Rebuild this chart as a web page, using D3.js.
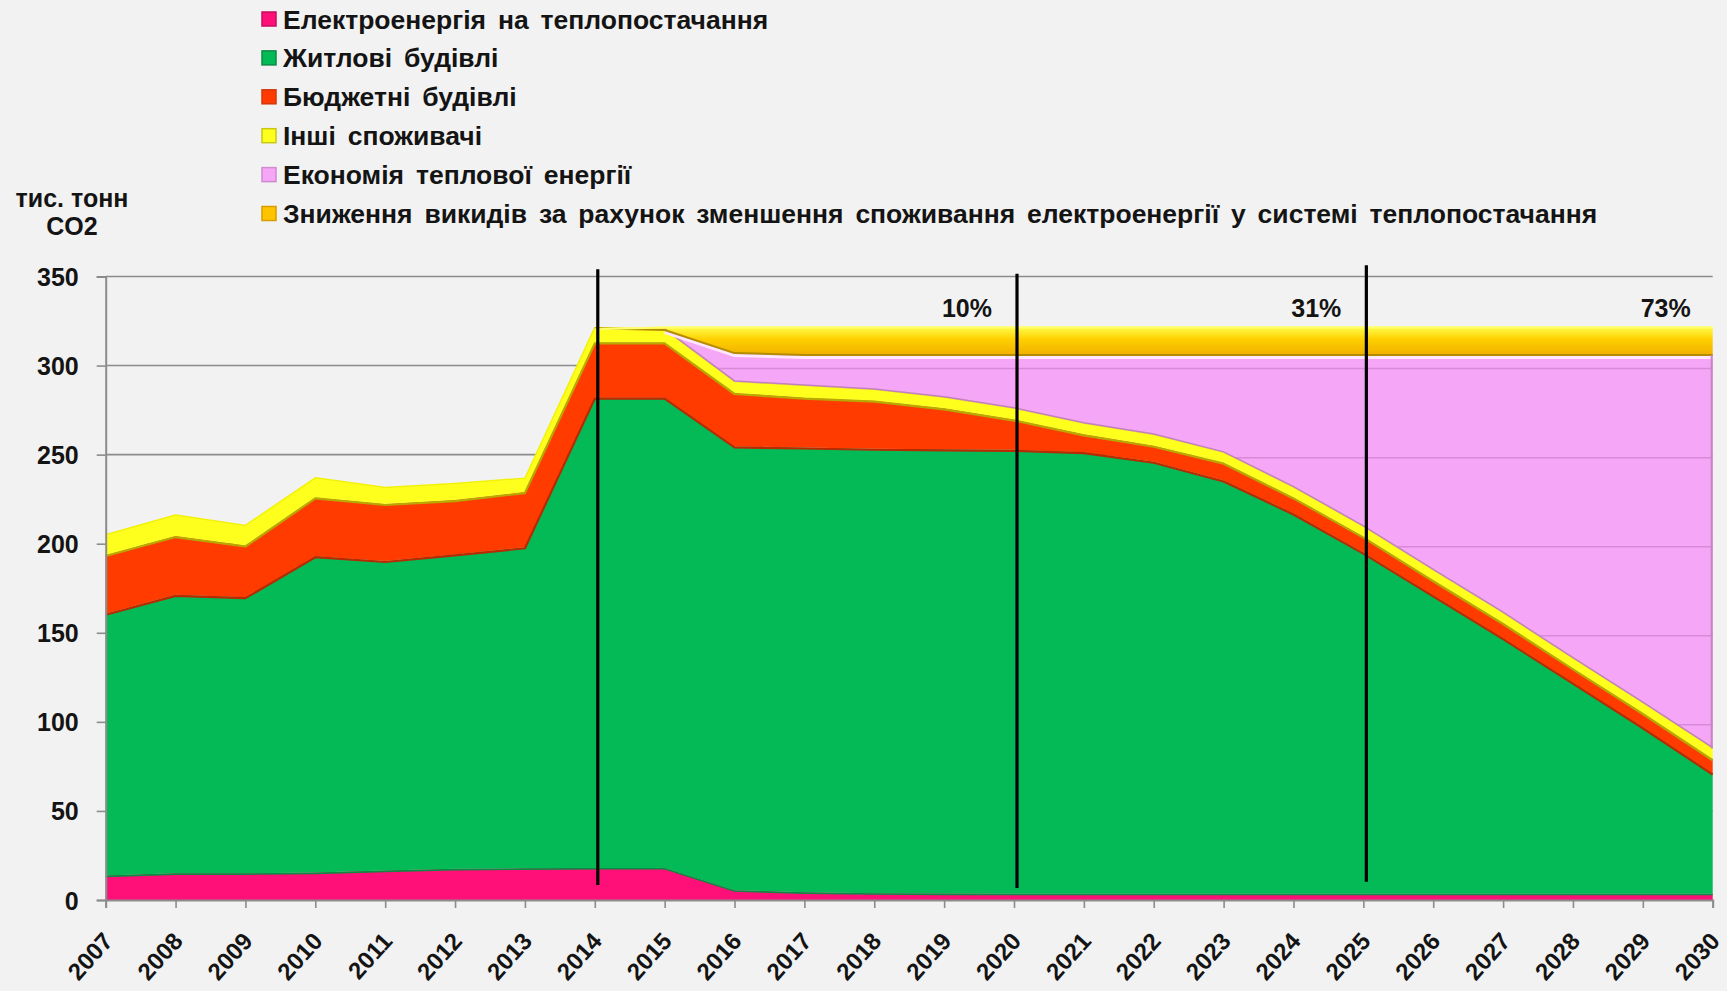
<!DOCTYPE html>
<html><head><meta charset="utf-8">
<script src="https://cdn.jsdelivr.net/npm/d3@7"></script>
<style>
html,body{margin:0;padding:0;background:#f2f2f2;}
svg{display:block;}
text{font-family:"Liberation Sans", Arial, sans-serif;fill:#141414;}
</style></head><body>
<svg id="chart" width="1727" height="991"></svg>
<script>
// ---------- data ----------
const years = [2007,2008,2009,2010,2011,2012,2013,2014,2015,2016,2017,2018,2019,2020,2021,2022,2023,2024,2025,2026,2027,2028,2029,2030];
const elec    = [13.7,15,15,15.4,16.5,17.5,17.8,18,18,5.5,4.3,3.8,3.6,3.5,3.5,3.5,3.5,3.5,3.5,3.5,3.5,3.5,3.5,3.5];
const resid   = [147,156.3,155,177.6,173.8,176.5,180.2,264,264,249.1,249.7,249.5,249.4,249.2,247.9,242.5,232,213.5,191.5,167.5,143.5,118.5,93.5,67.5];
const budget  = [33,33,29,33,32,30.5,31,31,31,30,28,27,23,17,10,9,10,9,9,8.5,8.5,8,8,8];
const other   = [11,11.5,11,10.7,9,9,7.5,8,7,6.2,6.5,6,6,6,6,6,5.5,5.5,5.5,5.5,5.5,5.5,5.5,6];
const savings = [0,0,0,0,0,0,0,0,0,16.2,17.5,19.7,24,30.3,38.6,45,55,74.5,96.5,121,145,170.5,195.5,221];
const gold    = [0,0,0,0,0,0,0,0,2,15,16,16,16,16,16,16,16,16,16,16,16,16,16,16];

const seriesKeys = ["elec","resid","budget","other","savings","gold"];
const seriesNames = [
  "Електроенергія на теплопостачання",
  "Житлові будівлі",
  "Бюджетні будівлі",
  "Інші споживачі",
  "Економія теплової енергії",
  "Зниження викидів за рахунок зменшення споживання електроенергії у системі теплопостачання"
];
const seriesColors = ["#ff0f78","#03ba56","#ff3b00","#ffff1e","#f6a6f6","#ffc400"];
const legendSwatch = ["#c80c5e","#0b8a44","#d2380a","#c8c814","#d08ad0","#d89c00"];

const yTicks = [0,50,100,150,200,250,300,350];
const markerYears = [2014,2020,2025];
const markerTop = [354,351.6,356.3];
const markerBottom = [8.4,6.7,10.3];
const pctYears = [2020,2025,2030];
const pctLabels = ["10%","31%","73%"];
const pctLevel = 327.3;
const yTitle = ["тис. тонн","CO2"];

// ---------- setup ----------
const svg = d3.select("#chart");
const x = d3.scaleLinear().domain([2007,2030]).range([105.7,1712.7]);
const y = d3.scaleLinear().domain([0,350]).range([900,276.5]);

const data = years.map((yr,i)=>({year:yr, elec:elec[i], resid:resid[i], budget:budget[i], other:other[i], savings:savings[i], gold:gold[i]}));
const stacked = d3.stack().keys(seriesKeys)(data);

// gridlines
svg.append("g").selectAll("line").data(yTicks.filter(v=>v>0)).join("line")
  .attr("x1",x(2007)).attr("x2",x(2030)).attr("y1",d=>y(d)).attr("y2",d=>y(d))
  .attr("stroke","#8c8c8c").attr("stroke-width",1.6);

// gradient for gold band
const defs = svg.append("defs");
const gg = defs.append("linearGradient").attr("id","goldGrad").attr("gradientUnits","userSpaceOnUse")
  .attr("x1",0).attr("x2",0).attr("y1",y(322)).attr("y2",y(306));
gg.append("stop").attr("offset","0%").attr("stop-color","#ffff50");
gg.append("stop").attr("offset","45%").attr("stop-color","#ffd000");
gg.append("stop").attr("offset","100%").attr("stop-color","#f0b000");

const startYear = {elec:2007,resid:2007,budget:2007,other:2007,savings:2015,gold:2014};
const plot = svg.append("g");
stacked.forEach((s,i)=>{
  const k = s.key;
  const area = d3.area().defined(d=>d.data.year>=startYear[k])
    .x(d=>x(d.data.year)).y0(d=>y(d[0])).y1(d=>y(d[1]));
  plot.append("path").datum(s).attr("d",area)
    .attr("fill", k==="gold" ? "url(#goldGrad)" : seriesColors[i]);
  if(k==="savings"){
    defs.append("clipPath").attr("id","savClip").append("path").datum(s).attr("d",area);
  }
});

// faint gridlines visible over the savings area
plot.append("g").attr("clip-path","url(#savClip)").selectAll("line").data(yTicks.filter(v=>v>0)).join("line")
  .attr("x1",x(2007)).attr("x2",x(2030)).attr("y1",d=>y(d)+3).attr("y2",d=>y(d)+3)
  .attr("stroke","#d88ad8").attr("stroke-width",1.5);

// bevel-like edge lines
function edge(s, startY, color, w, off){
  const ln = d3.line().defined(d=>d.data.year>=startY).x(d=>x(d.data.year)).y(d=>y(d[1])+(off||0));
  plot.append("path").datum(s).attr("d",ln).attr("fill","none").attr("stroke",color).attr("stroke-width",w).attr("stroke-linejoin","round");
}
edge(stacked[0],2007,"#0b8a40",1.6,0.8);     // pink/green
edge(stacked[1],2007,"#b82a00",2.2,1);       // green/red
edge(stacked[2],2007,"#b8a800",2.2,1);       // red/yellow
edge(stacked[3],2007,"#f2f200",1.5,-0.5);    // yellow top highlight
const yellowTopShadow = d3.line().defined(d=>d.data.year>=2015).x(d=>x(d.data.year)).y(d=>y(d[1])-1);
plot.append("path").datum(stacked[3]).attr("d",yellowTopShadow).attr("fill","none").attr("stroke","#c27fc2").attr("stroke-width",1.5);
edge(stacked[4],2015,"#ffe6ff",3,2.5);       // pink top highlight
edge(stacked[4],2014,"#b48c00",2,0);         // gold bottom shadow
edge(stacked[5],2014,"#ffff6a",2,1);         // gold top highlight

// right end edge of the savings layer
const last = data.length-1;
plot.append("line").attr("x1",x(years[last])-1).attr("x2",x(years[last])-1)
  .attr("y1",y(stacked[4][last][0])).attr("y2",y(stacked[4][last][1]))
  .attr("stroke","#c585c5").attr("stroke-width",2);

// axes
const yAxis = d3.axisLeft(y).tickValues(yTicks).tickSize(9).tickPadding(18).tickFormat(d3.format("d"));
const gy = svg.append("g").attr("transform",`translate(${x(2007)},0)`).call(yAxis);
gy.select(".domain").attr("stroke","#8c8c8c").attr("stroke-width",2);
gy.selectAll(".tick line").attr("stroke","#8c8c8c").attr("stroke-width",1.6);
gy.selectAll(".tick text").attr("font-size",25).attr("font-weight","bold").attr("font-family","'Liberation Sans',Arial").attr("fill","#141414").attr("dy","0.36em");

const xAxis = d3.axisBottom(x).tickValues(years).tickSize(8).tickFormat(d3.format("d"));
const gx = svg.append("g").attr("transform",`translate(0,${y(0)})`).call(xAxis);
gx.select(".domain").attr("stroke","#8c8c8c").attr("stroke-width",2);
gx.selectAll(".tick line").attr("stroke","#8c8c8c").attr("stroke-width",1.6);
gx.selectAll(".tick text").attr("font-size",24).attr("font-weight","bold").attr("fill","#141414")
  .attr("text-anchor","end").attr("dy",0).attr("y",0)
  .attr("transform","translate(8,42) rotate(-48)");

// marker lines
svg.append("g").selectAll("line").data(markerYears).join("line")
  .attr("x1",(d)=>x(d)+3).attr("x2",(d)=>x(d)+3)
  .attr("y1",(d,i)=>y(markerTop[i])).attr("y2",(d,i)=>y(markerBottom[i]))
  .attr("stroke","#000").attr("stroke-width",3.2);

// percentage labels
svg.append("g").selectAll("text").data(pctYears).join("text")
  .attr("x",d=>x(d)-22).attr("y",y(pctLevel)).attr("text-anchor","end")
  .attr("font-size",25).attr("font-weight","bold").attr("fill","#141414").text((d,i)=>pctLabels[i]);

// y title
svg.append("g").selectAll("text").data(yTitle).join("text")
  .attr("x",72).attr("y",(d,i)=>206.5+i*28.5).attr("text-anchor","middle")
  .attr("font-size",25).attr("font-weight","bold").text(d=>d);

// legend
const lg = svg.append("g");
seriesNames.forEach((name,i)=>{
  const cy = 19 + i*38.9;
  lg.append("rect").attr("x",262).attr("y",cy-7).attr("width",14).attr("height",14)
    .attr("fill",seriesColors[i]).attr("stroke",legendSwatch[i]).attr("stroke-width",1.5);
  lg.append("text").attr("x",283).attr("y",cy).attr("dy","0.36em")
    .attr("font-size",26.5).attr("font-weight","bold").attr("word-spacing",4.5).text(name);
});
</script>
</body></html>
